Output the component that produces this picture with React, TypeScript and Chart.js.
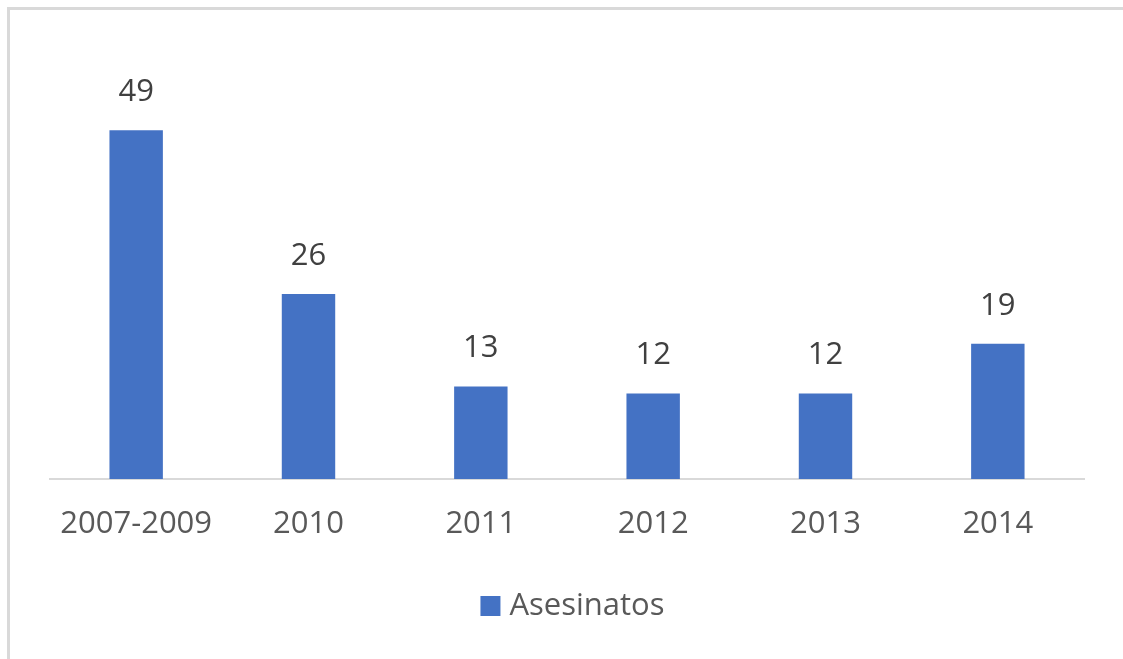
import React, { useEffect, useRef } from "react";
import { Chart, registerables } from "chart.js";

Chart.register(...registerables);

const categories = ["2007-2009", "2010", "2011", "2012", "2013", "2014"];
const asesinatos = [49, 26, 13, 12, 12, 19];
const seriesName = "Asesinatos";

const FONT = "'Open Sans', sans-serif";
const BAR_COLOR = "#4472C4";

const valueLabels = {
  id: "valueLabels",
  afterDatasetsDraw(chart: any) {
    const ctx = chart.ctx;
    const meta = chart.getDatasetMeta(0);
    ctx.save();
    ctx.font = `31px ${FONT}`;
    ctx.fillStyle = "#404040";
    ctx.textAlign = "center";
    ctx.textBaseline = "middle";
    meta.data.forEach((bar: any, i: number) => {
      ctx.fillText(String(chart.data.datasets[0].data[i]), bar.x, bar.y - 38);
    });
    ctx.restore();
  },
};

const customLegend = {
  id: "customLegend",
  afterDraw(chart: any) {
    const ctx = chart.ctx;
    const ds = chart.data.datasets[0];
    ctx.save();
    ctx.font = `31px ${FONT}`;
    const tw = ctx.measureText(ds.label).width;
    const box = 20;
    const gap = 9;
    const total = box + gap + tw;
    const cx = chart.width / 2 + 11;
    const x0 = cx - total / 2;
    const cy = chart.chartArea.bottom + 127;
    ctx.fillStyle = ds.backgroundColor;
    ctx.fillRect(x0, cy - box / 2, box, box);
    ctx.fillStyle = "#595959";
    ctx.textAlign = "left";
    ctx.textBaseline = "middle";
    ctx.fillText(ds.label, x0 + box + gap, cy);
    ctx.restore();
  },
};

export default function App() {
  const ref = useRef<HTMLCanvasElement>(null);
  useEffect(() => {
    if (!ref.current) return;
    const chart = new Chart(ref.current, {
      type: "bar",
      data: {
        labels: categories,
        datasets: [
          {
            label: seriesName,
            data: asesinatos,
            backgroundColor: BAR_COLOR,
            borderWidth: 0,
            barPercentage: 0.31,
            categoryPercentage: 1,
          },
        ],
      },
      options: {
        animation: false,
        responsive: false,
        maintainAspectRatio: false,
        layout: { padding: { left: 50, right: 39, top: 52, bottom: 78 } },
        scales: {
          x: {
            grid: { display: false, drawTicks: false },
            border: { display: true, color: "#d9d9d9", width: 2 },
            ticks: {
              padding: 27,
              color: "#595959",
              font: { family: FONT, size: 31 },
              maxRotation: 0,
            },
            afterFit(scale: any) {
              scale.height = 102;
            },
          },
          y: {
            display: false,
            min: 0,
            max: 60,
          },
        },
        plugins: {
          legend: { display: false },
          tooltip: { enabled: false },
        },
      },
      plugins: [valueLabels, customLegend],
    });
    return () => chart.destroy();
  }, []);

  return (
    <div style={{ position: "fixed", left: 0, top: 0, width: 1123, height: 659, background: "#fff" }}>
      <div
        style={{
          position: "absolute",
          left: 7,
          top: 7,
          width: 1116,
          height: 652,
          borderTop: "3px solid #d9d9d9",
          borderLeft: "3px solid #d9d9d9",
          boxSizing: "border-box",
        }}
      />
      <canvas ref={ref} width={1123} height={659} style={{ position: "absolute", left: 0, top: 0, width: 1123, height: 659 }} />
    </div>
  );
}
